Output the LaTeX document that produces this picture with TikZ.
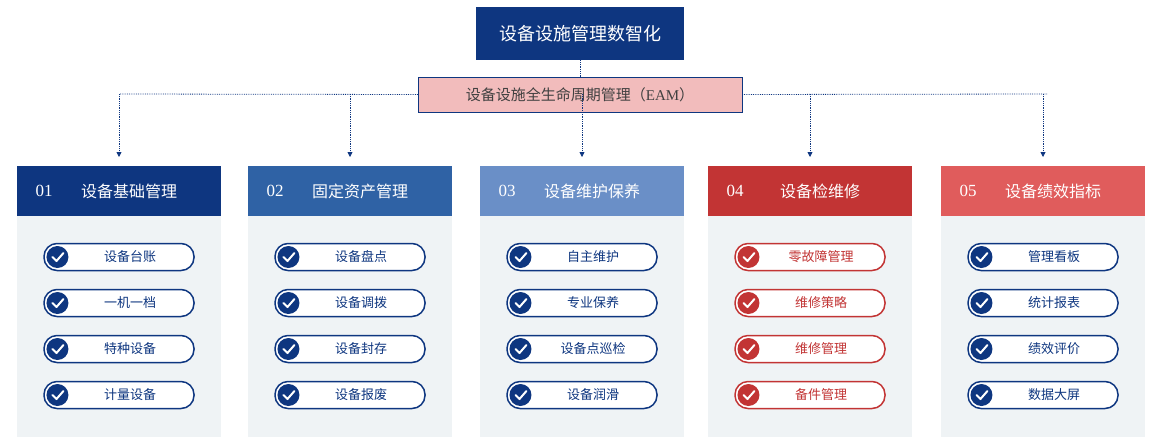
\documentclass[tikz,border=0pt]{standalone}
\usepackage{fontspec}
\setmainfont{Liberation Serif}
\newfontfamily\cjk{Noto Sans CJK SC}
\usetikzlibrary{arrows.meta,positioning}
\definecolor{navy}{HTML}{0E3680}
\definecolor{midblue}{HTML}{2F62A5}
\definecolor{lightblue}{HTML}{6A8FC7}
\definecolor{darkred}{HTML}{C23434}
\definecolor{lightred}{HTML}{E05C5C}
\definecolor{panelbg}{HTML}{EFF3F5}
\definecolor{pinkbg}{HTML}{F2BCBC}
\begin{document}
\begin{tikzpicture}[
        x=1pt, y=-1pt,
        link/.style={draw=navy, densely dotted, thick},
        arrow/.style={link, -{Triangle[width=5pt,length=5pt]}},
        panel/.style={fill=panelbg, draw=none, minimum width=204pt, minimum height=221pt, anchor=north west, inner sep=0},
        header/.style={fill=#1, draw=none, minimum width=204pt, minimum height=50pt, anchor=north west, inner sep=0},
        num/.style={text=white, font=\fontsize{17}{17}\selectfont},
        title/.style={text=white, font=\cjk\fontsize{16}{16}\selectfont},
        pill/.style={draw=#1, line width=1.5pt, fill=white, rounded corners=13pt, minimum width=150pt, minimum height=27pt, inner sep=0, text=#1, font=\cjk\fontsize{13}{13}\selectfont},
        tick/.style={circle, fill=#1, minimum size=22pt, inner sep=0},
    ]
    \useasboundingbox (0,0) rectangle (1158,445);
    % top
    \node[fill=navy, minimum width=208pt, minimum height=53pt, text=white, font=\cjk\fontsize{18}{18}\selectfont] (top) at (580,33.5) {设备设施管理数智化};
    \node[fill=pinkbg, draw=navy, minimum width=324pt, minimum height=35pt, text=black!75, font=\cjk\fontsize{15}{15}\selectfont] (eam) at (580,94.5) {设备设施全生命周期管理（\textrm{EAM}）};
    \draw[link] (top) -- (eam);
    \coordinate (hl) at (120,94);
    \coordinate (hr) at (1048,94);
    \draw[link] (hl) -- (eam.west) (eam.east) -- (hr);
    % columns
    \foreach \i/\x/\col/\pc/\txt/\a/\b/\c/\d in {
        1/17/navy/navy/设备基础管理/设备台账/一机一档/特种设备/计量设备,
        2/248/midblue/navy/固定资产管理/设备盘点/设备调拨/设备封存/设备报废,
        3/480/lightblue/navy/设备维护保养/自主维护/专业保养/设备点巡检/设备润滑,
        4/708/darkred/darkred/设备检维修/零故障管理/维修策略/维修管理/备件管理,
        5/941/lightred/navy/设备绩效指标/管理看板/统计报表/绩效评价/数据大屏}{
        \node[panel] (p\i) at (\x,216) {};
        \node[header=\col] (h\i) at (\x,166) {};
        \node[num, anchor=west] (n\i) at (\x+15,191) {0\i};
        \node[title] (t\i) at (\x+112,191) {\txt};
        \coordinate (d\i) at (\x+102,94);
        \draw[arrow] (d\i) -- ++(0,63);
        \foreach \j/\lbl in {1/\a,2/\b,3/\c,4/\d}{
            \node[pill=\pc] (q\i\j) at (\x+102,211+46*\j) {\hspace{22pt}\lbl};
            \node[tick=\pc, right=3pt of q\i\j.west] (k\i\j) {};
            \draw[white, line width=2pt, line cap=round, line join=round] ([shift={(-5,0)}]k\i\j.center) -- ++(4,4) -- ++(7,-8);
        }
    }
\end{tikzpicture}
\end{document}
